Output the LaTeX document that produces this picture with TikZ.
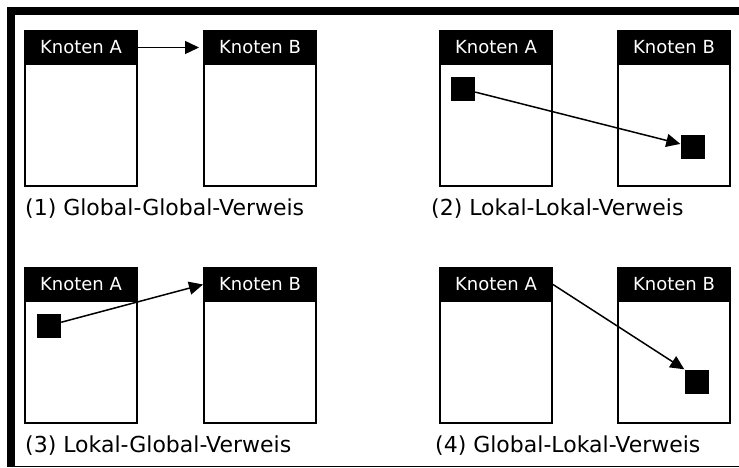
\documentclass[tikz,border=0pt]{standalone}
\usepackage{fontspec}
\setmainfont{DejaVu Sans}
\usetikzlibrary{arrows.meta}

\tikzset{
	knoten/.style = {draw = black, line width = 2pt, fill = white, anchor = north west, minimum width = 112pt, minimum height = 155pt, inner sep = 0pt},
	kopf/.style = {draw = black, line width = 2pt, fill = black, text = white, anchor = north, minimum width = 112pt, minimum height = 33pt, inner sep = 0pt, font = \fontsize{18}{20}\selectfont},
	objekt/.style = {fill = black, minimum size = 24pt, inner sep = 0pt},
	verweis/.style = {-{Triangle[length = 14pt, width = 13pt]}, line width = 1.5pt},
	titel/.style = {anchor = west, inner sep = 0pt, font = \fontsize{22}{24}\selectfont}
}

\begin{document}
\begin{tikzpicture}[x = 1pt, y = -1pt]
	\useasboundingbox (0, 0) rectangle (739, 468);
	
	% 边框
	\fill [black] (7, 7) rectangle (739, 15);
	\fill [black] (7, 7) rectangle (15, 467);
	\draw [line width = 1.5pt] (7, 466.5) -- (739, 466.5);
	
	% 左上
	\node [knoten] (a1) at (24, 30) {};
	\node [kopf] (a1k) at (a1.north) {Knoten A};
	\node [knoten] (b1) at (203, 30) {};
	\node [kopf] (b1k) at (b1.north) {Knoten B};
	\draw [verweis, shorten > = 4pt] (a1k.east) -- (b1k.west);
	\node [titel] (t1) at (25, 209) {(1) Global-Global-Verweis};
	
	% 右上
	\node [knoten] (a2) at (439, 30) {};
	\node [kopf] (a2k) at (a2.north) {Knoten A};
	\node [knoten] (b2) at (617, 30) {};
	\node [kopf] (b2k) at (b2.north) {Knoten B};
	\node [objekt] (a2o) at (463, 89) {};
	\node [objekt] (b2o) at (692.5, 147) {};
	\draw [verweis] (a2o) -- (b2o);
	\node [titel] (t2) at (431, 209) {(2) Lokal-Lokal-Verweis};
	
	% 左下
	\node [knoten] (a3) at (24, 267) {};
	\node [kopf] (a3k) at (a3.north) {Knoten A};
	\node [knoten] (b3) at (203, 267) {};
	\node [kopf] (b3k) at (b3.north) {Knoten B};
	\node [objekt] (a3o) at (49, 325.5) {};
	\draw [verweis] (a3o) -- (b3k.west);
	\node [titel] (t3) at (25, 446) {(3) Lokal-Global-Verweis};
	
	% 右下
	\node [knoten] (a4) at (439, 267) {};
	\node [kopf] (a4k) at (a4.north) {Knoten A};
	\node [knoten] (b4) at (617, 267) {};
	\node [kopf] (b4k) at (b4.north) {Knoten B};
	\node [objekt] (b4o) at (696.5, 381.5) {};
	\draw [verweis] (a4k.east) -- (b4o.north west);
	\node [titel] (t4) at (435, 446) {(4) Global-Lokal-Verweis};
\end{tikzpicture}
\end{document}
